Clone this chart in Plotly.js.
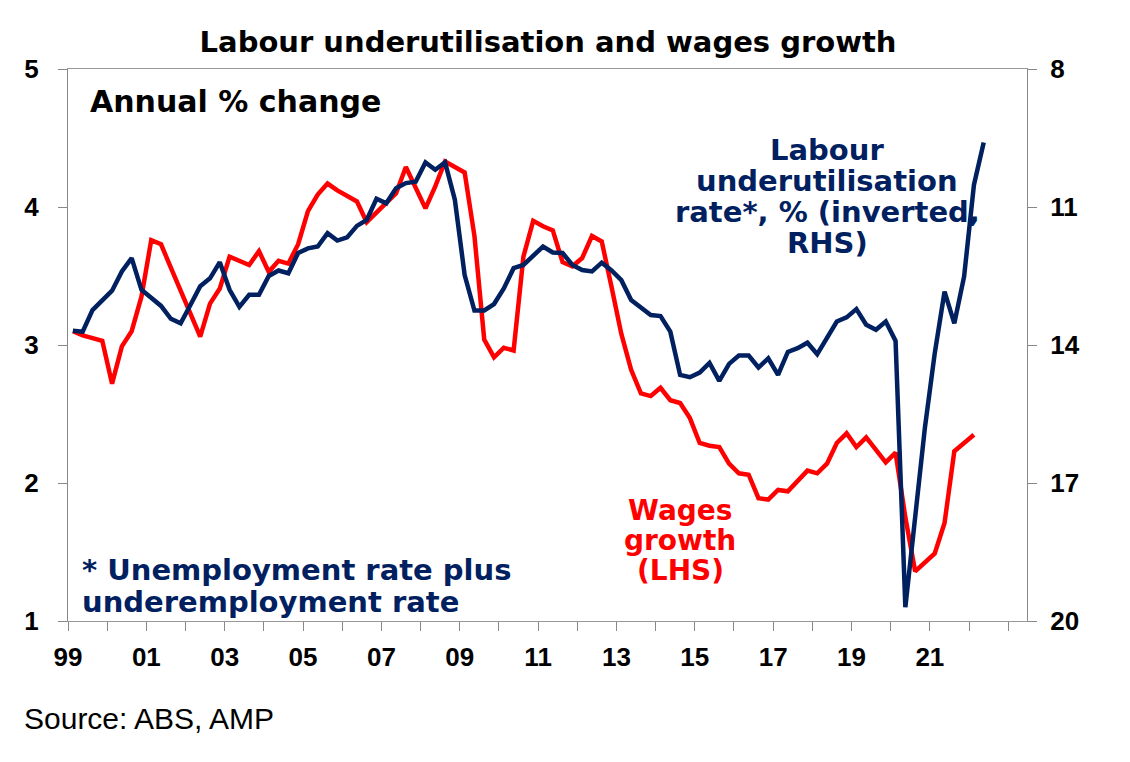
<!DOCTYPE html>
<html>
<head>
<meta charset="utf-8">
<script src="https://cdn.plot.ly/plotly-3.0.1.min.js"></script>
<style>body{margin:0;background:#fff;}</style>
</head>
<body>
<div id="chart" style="width:1130px;height:762px;"></div>
<script>
// quarterly data, starting March quarter 1999
var wagesGrowth = [3.10, 3.07, 3.05, 3.03, 2.72, 2.99, 3.10, 3.35, 3.76, 3.73,
    3.56, 3.39, 3.23, 3.06, 3.30, 3.41, 3.64, 3.61, 3.58, 3.68,
    3.53, 3.61, 3.59, 3.73, 3.97, 4.09, 4.17, 4.12, 4.08, 4.04,
    3.89, 3.96, 4.03, 4.10, 4.29, 4.14, 3.99, 4.15, 4.33, 4.29,
    4.25, 3.79, 3.04, 2.91, 2.98, 2.96, 3.64, 3.90, 3.86, 3.83,
    3.60, 3.57, 3.63, 3.79, 3.75, 3.42, 3.08, 2.82, 2.65, 2.63,
    2.69, 2.60, 2.58, 2.47, 2.29, 2.27, 2.26, 2.14, 2.07, 2.06,
    1.89, 1.88, 1.95, 1.94, 2.02, 2.09, 2.07, 2.14, 2.29, 2.36,
    2.26, 2.33, 2.24, 2.15, 2.22, 1.75, 1.36, 1.42, 1.49, 1.71,
    2.23, 2.29, 2.35];

var underutilisation = [13.69, 13.71, 13.24, 13.02, 12.82, 12.40, 12.11, 12.80, 12.96, 13.15,
    13.43, 13.53, 13.13, 12.72, 12.55, 12.20, 12.80, 13.17, 12.91, 12.91,
    12.50, 12.38, 12.44, 12.00, 11.90, 11.86, 11.57, 11.73, 11.66, 11.41,
    11.28, 10.82, 10.92, 10.59, 10.48, 10.45, 10.03, 10.19, 10.03, 10.84,
    12.48, 13.25, 13.25, 13.11, 12.77, 12.33, 12.26, 12.06, 11.86, 11.99,
    12.00, 12.26, 12.37, 12.40, 12.21, 12.38, 12.59, 13.02, 13.18, 13.35,
    13.37, 13.71, 14.65, 14.70, 14.60, 14.39, 14.78, 14.41, 14.23, 14.23,
    14.49, 14.29, 14.65, 14.15, 14.07, 13.95, 14.20, 13.85, 13.49, 13.40,
    13.22, 13.56, 13.67, 13.49, 13.91, 19.70, 17.72, 15.79, 14.18, 12.84,
    13.53, 12.51, 10.52, 9.60];

var yearTicks = [1999, 2000, 2001, 2002, 2003, 2004, 2005, 2006, 2007, 2008, 2009, 2010,
    2011, 2012, 2013, 2014, 2015, 2016, 2017, 2018, 2019, 2020, 2021, 2022, 2023];
var yearLabels = ['99', '', '01', '', '03', '', '05', '', '07', '', '09', '',
    '11', '', '13', '', '15', '', '17', '', '19', '', '21', '', ''];

var navy = '#002060';
var red = '#ff0000';
var font = 'DejaVu Sans, Liberation Sans, Arial, sans-serif';
var arial = 'Liberation Sans, Arial, sans-serif';

// quarter mid points as decimal years
var quarters = underutilisation.map(function (v, i) { return 1999 + (i + 0.5) / 4; });

var wagesTrace = {
    x: quarters.slice(0, wagesGrowth.length),
    y: wagesGrowth,
    type: 'scatter',
    mode: 'lines',
    line: {color: red, width: 4.5},
    hoverinfo: 'skip'
};

var underTrace = {
    x: quarters,
    y: underutilisation,
    yaxis: 'y2',
    type: 'scatter',
    mode: 'lines',
    line: {color: navy, width: 4.5},
    hoverinfo: 'skip'
};

// plot area in pixels: 67.7..1027 wide, 69.3..620.7 high
function note(text, px, py, color, size, anchor, weight, family) {
    return {
        text: text,
        xref: 'paper', yref: 'paper',
        x: (px - 67.7) / 959.3,
        y: (620.7 - py) / 551.4,
        xanchor: anchor, yanchor: 'middle',
        showarrow: false,
        font: {family: family || font, size: size, color: color, weight: weight || 'bold'}
    };
}

var tickFont = {family: arial, size: 26, color: '#000', weight: 'bold'};

var layout = {
    width: 1130,
    height: 762,
    margin: {l: 68, r: 103, t: 69, b: 141},
    paper_bgcolor: '#fff',
    plot_bgcolor: '#fff',
    showlegend: false,
    title: {
        text: 'Labour underutilisation and wages growth',
        x: 0.485, xref: 'container', xanchor: 'center',
        y: 0.945, yref: 'container', yanchor: 'middle',
        font: {family: font, size: 29, color: '#000', weight: 'bold'}
    },
    xaxis: {
        range: [1999, 2023.48],
        tickvals: yearTicks,
        ticktext: yearLabels,
        ticks: 'outside', ticklen: 9, tickcolor: '#888', tickwidth: 1,
        ticklabelstandoff: 4,
        showgrid: false, zeroline: false,
        showline: true, linecolor: '#999', linewidth: 1, mirror: true,
        tickfont: tickFont
    },
    yaxis: {
        range: [1, 5],
        tickvals: [1, 2, 3, 4, 5],
        ticks: 'outside', ticklen: 9, tickcolor: '#888', tickwidth: 1,
        ticklabelstandoff: 14,
        showgrid: false, zeroline: false,
        showline: true, linecolor: '#888', linewidth: 1, mirror: true,
        tickfont: tickFont
    },
    yaxis2: {
        overlaying: 'y',
        side: 'right',
        range: [20, 8],
        tickvals: [8, 11, 14, 17, 20],
        ticks: 'outside', ticklen: 9, tickcolor: '#888', tickwidth: 1,
        ticklabelstandoff: 8,
        showgrid: false, zeroline: false, showline: false,
        tickfont: tickFont
    },
    annotations: [
        note('Annual % change', 88, 102, '#000', 30, 'left'),
        note('Labour', 827, 150, navy, 29, 'center'),
        note('underutilisation', 827, 181, navy, 29, 'center'),
        note('rate*, % (inverted,', 827, 212, navy, 29, 'center'),
        note('RHS)', 827, 243, navy, 29, 'center'),
        note('Wages', 680, 510, red, 28, 'center'),
        note('growth', 680, 540, red, 28, 'center'),
        note('(LHS)', 680, 570, red, 28, 'center'),
        note('* Unemployment rate plus', 80, 570, navy, 29, 'left'),
        note('underemployment rate', 80, 602, navy, 29, 'left'),
        note('Source: ABS, AMP', 22, 718, '#000', 30, 'left', 'normal', arial)
    ]
};

Plotly.newPlot('chart', [wagesTrace, underTrace], layout, {displayModeBar: false, staticPlot: true});
</script>
</body>
</html>
